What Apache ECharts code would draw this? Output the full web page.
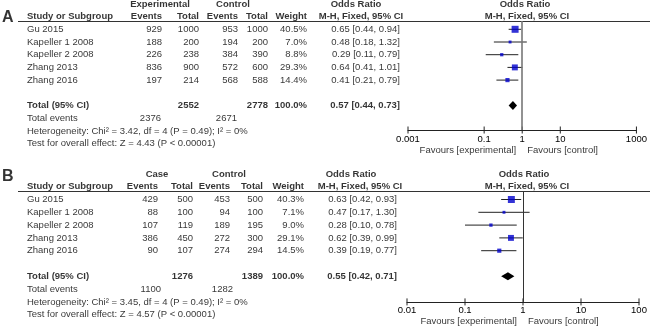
<!DOCTYPE html>
<html>
<head>
<meta charset="utf-8">
<script src="https://cdn.jsdelivr.net/npm/echarts@6/dist/echarts.min.js"></script>
<style>
  html, body { margin: 0; padding: 0; background: #fff; }
  #chart { width: 650px; height: 328px; }
</style>
</head>
<body>
<div id="chart"></div>
<script>
// ---- data ----
const studies = ['Gu 2015', 'Kapeller 1 2008', 'Kapeller 2 2008', 'Zhang 2013', 'Zhang 2016'];

// panel A
const aExpEvents = [929, 188, 226, 836, 197];
const aExpTotal = [1000, 200, 238, 900, 214];
const aCtrlEvents = [953, 194, 384, 572, 568];
const aCtrlTotal = [1000, 200, 390, 600, 588];
const aWeight = [40.5, 7.0, 8.8, 29.3, 14.4];
const aOR = [0.65, 0.48, 0.29, 0.64, 0.41];
const aLow = [0.44, 0.18, 0.11, 0.41, 0.21];
const aHigh = [0.94, 1.32, 0.79, 1.01, 0.79];
const aTotals = [2552, 2778];          // total participants exp / ctrl
const aTotalEvents = [2376, 2671];
const aPooled = [0.57, 0.44, 0.73];   // OR, low, high
const aHet = 'Heterogeneity: Chi² = 3.42, df = 4 (P = 0.49); I² = 0%';
const aTest = 'Test for overall effect: Z = 4.43 (P < 0.00001)';
const aTicks = [0.001, 0.1, 1, 10, 1000];
const aTickLabels = ['0.001', '0.1', '1', '10', '1000'];

// panel B
const bExpEvents = [429, 88, 107, 386, 90];
const bExpTotal = [500, 100, 119, 450, 107];
const bCtrlEvents = [453, 94, 189, 272, 274];
const bCtrlTotal = [500, 100, 195, 300, 294];
const bWeight = [40.3, 7.1, 9.0, 29.1, 14.5];
const bOR = [0.63, 0.47, 0.28, 0.62, 0.39];
const bLow = [0.42, 0.17, 0.10, 0.39, 0.19];
const bHigh = [0.93, 1.30, 0.78, 0.99, 0.77];
const bTotals = [1276, 1389];
const bTotalEvents = [1100, 1282];
const bPooled = [0.55, 0.42, 0.71];
const bHet = 'Heterogeneity: Chi² = 3.45, df = 4 (P = 0.49); I² = 0%';
const bTest = 'Test for overall effect: Z = 4.57 (P < 0.00001)';
const bTicks = [0.01, 0.1, 1, 10, 100];
const bTickLabels = ['0.01', '0.1', '1', '10', '100'];

const FONT = 'Liberation Sans, Arial, Helvetica, sans-serif';
const FS = 9.5;

const chart = echarts.init(document.getElementById('chart'));

const option = {
  animation: false,
  textStyle: { fontFamily: FONT },
  grid: [],
  xAxis: [],
  yAxis: [],
  series: []
};

function ciText(o, l, h) {
  return o.toFixed(2) + ' [' + l.toFixed(2) + ', ' + h.toFixed(2) + ']';
}

function addPanel(p) {
  const gT = option.grid.length;
  const gF = gT + 1;
  // table grid: row r sits at base + r*step
  option.grid.push({ left: 0, width: 650, top: p.base - 2 * p.step, height: 12 * p.step });
  // forest grid: from header rule down to the axis
  option.grid.push({
    left: p.axisLeft, width: p.axisWidth,
    top: p.base + p.yMin * p.step, height: (p.yMax - p.yMin) * p.step
  });

  const xT = option.xAxis.length;
  const tickVals = p.ticks.map(Math.log10);
  const tickFmt = v => {
    const i = tickVals.findIndex(t => Math.abs(t - v) < 1e-6);
    return i >= 0 ? p.tickLabels[i] : '';
  };
  option.xAxis.push({ gridIndex: gT, type: 'value', min: 0, max: 650, show: false });
  option.xAxis.push({
    gridIndex: gF, type: 'value', position: 'bottom',
    min: tickVals[0], max: tickVals[tickVals.length - 1],
    axisLine: { show: true, onZero: false, lineStyle: { color: '#222', width: 1 } },
    axisTick: { show: false },
    axisLabel: { show: true, customValues: tickVals, formatter: tickFmt, margin: p.labelMargin, fontSize: FS, color: '#000', fontFamily: FONT },
    splitLine: { show: false }
  });

  const yT = option.yAxis.length;
  option.yAxis.push({ gridIndex: gT, type: 'value', inverse: true, min: -2, max: 10, show: false });
  option.yAxis.push({ gridIndex: gF, type: 'value', inverse: true, min: p.yMin, max: p.yMax, show: false });

  const c = p.cols;
  const items = [];
  const txt = (x, row, text, align, bold, size) => items.push({
    name: text, value: [x, row],
    label: { align: align, fontWeight: bold ? 'bold' : 'normal', fontSize: size || FS }
  });

  txt(2, p.letterRow, p.letter, 'left', true, 16);
  // header rows
  txt(c.grp1, -2, p.group1, 'center', true);
  txt(c.grp2, -2, 'Control', 'center', true);
  txt(c.or1, -2, 'Odds Ratio', 'center', true);
  txt(c.or2, -2, 'Odds Ratio', 'center', true);
  txt(c.name, -1, 'Study or Subgroup', 'left', true);
  txt(c.c1, -1, 'Events', 'right', true);
  txt(c.c2, -1, 'Total', 'right', true);
  txt(c.c3, -1, 'Events', 'right', true);
  txt(c.c4, -1, 'Total', 'right', true);
  txt(c.c5, -1, 'Weight', 'right', true);
  txt(c.mh1, -1, 'M-H, Fixed, 95% CI', 'center', true);
  txt(c.mh2, -1, 'M-H, Fixed, 95% CI', 'center', true);

  studies.forEach((s, i) => {
    txt(c.name, i, s, 'left');
    txt(c.c1, i, String(p.expEvents[i]), 'right');
    txt(c.c2, i, String(p.expTotal[i]), 'right');
    txt(c.c3, i, String(p.ctrlEvents[i]), 'right');
    txt(c.c4, i, String(p.ctrlTotal[i]), 'right');
    txt(c.c5, i, p.weight[i].toFixed(1) + '%', 'right');
    txt(c.orText, i, ciText(p.or[i], p.low[i], p.high[i]), 'right');
  });

  txt(c.name, 6, 'Total (95% CI)', 'left', true);
  txt(c.c2, 6, String(p.totals[0]), 'right', true);
  txt(c.c4, 6, String(p.totals[1]), 'right', true);
  txt(c.c5, 6, '100.0%', 'right', true);
  txt(c.orText, 6, ciText(p.pooled[0], p.pooled[1], p.pooled[2]), 'right', true);
  txt(c.name, 7, 'Total events', 'left');
  txt(c.ev1, 7, String(p.totalEvents[0]), 'right');
  txt(c.ev2, 7, String(p.totalEvents[1]), 'right');
  txt(c.name, 8, p.het, 'left');
  txt(c.name, 9, p.test, 'left');

  option.series.push({
    type: 'scatter', xAxisIndex: xT, yAxisIndex: yT,
    silent: true, clip: false, symbolSize: 1,
    itemStyle: { color: 'rgba(0,0,0,0)' },
    label: { show: true, position: 'inside', color: '#000', fontSize: FS, fontFamily: FONT, verticalAlign: 'middle', formatter: q => q.name },
    emphasis: { disabled: true },
    data: items,
    markLine: {
      silent: true, symbol: 'none', label: { show: false },
      lineStyle: { color: '#333', width: 1, type: 'solid' },
      data: [[{ coord: [18, p.yMin] }, { coord: [650, p.yMin] }]]
    }
  });

  // axis ticks, crossing the axis line
  option.series.push({
    type: 'custom', xAxisIndex: xT + 1, yAxisIndex: yT + 1, silent: true,
    data: tickVals.map(v => [v, p.yMax]),
    renderItem: (params, api) => {
      const pt = api.coord([api.value(0), api.value(1)]);
      return { type: 'line', shape: { x1: pt[0], y1: pt[1] - 3.5, x2: pt[0], y2: pt[1] + 3.5 }, style: { stroke: '#222', lineWidth: 1 } };
    }
  });

  // confidence intervals
  option.series.push({
    type: 'custom', xAxisIndex: xT + 1, yAxisIndex: yT + 1, silent: true,
    data: studies.map((s, i) => [Math.log10(p.low[i]), Math.log10(p.high[i]), i]),
    renderItem: (params, api) => {
      const a = api.coord([api.value(0), api.value(2)]);
      const b = api.coord([api.value(1), api.value(2)]);
      return { type: 'line', shape: { x1: a[0], y1: a[1], x2: b[0], y2: b[1] }, style: { stroke: '#222', lineWidth: 1 } };
    }
  });

  // study squares + line of no effect
  option.series.push({
    type: 'scatter', xAxisIndex: xT + 1, yAxisIndex: yT + 1, silent: true,
    symbol: 'rect', z: 3,
    itemStyle: { color: '#0000cc' },
    data: studies.map((s, i) => ({ value: [Math.log10(p.or[i]), i], symbolSize: 11 * Math.sqrt(p.weight[i] / 100) })),
    markLine: {
      silent: true, symbol: 'none', label: { show: false },
      lineStyle: { color: p.nullColor, width: p.nullWidth, type: 'solid' },
      data: [{ xAxis: 0 }]
    }
  });

  // pooled diamond
  option.series.push({
    type: 'custom', xAxisIndex: xT + 1, yAxisIndex: yT + 1, silent: true,
    data: [[Math.log10(p.pooled[1]), Math.log10(p.pooled[0]), Math.log10(p.pooled[2]), 6]],
    renderItem: (params, api) => {
      const row = api.value(3);
      const l = api.coord([api.value(0), row]);
      const m = api.coord([api.value(1), row]);
      const r = api.coord([api.value(2), row]);
      const h = p.diamondHalf;
      return { type: 'polygon', shape: { points: [l, [m[0], m[1] - h], r, [m[0], m[1] + h]] }, style: { fill: '#000' } };
    }
  });

  // favours labels
  option.series.push({
    type: 'scatter', xAxisIndex: xT + 1, yAxisIndex: yT + 1, silent: true, clip: false,
    symbolSize: 1, itemStyle: { color: 'rgba(0,0,0,0)' },
    label: { show: true, position: 'inside', color: '#000', fontSize: FS, fontFamily: FONT, verticalAlign: 'middle', formatter: q => q.name },
    data: [
      { name: 'Favours [experimental]', value: [0, p.favRow], label: { align: 'right', offset: [-6, 0] } },
      { name: 'Favours [control]', value: [0, p.favRow], label: { align: 'left', offset: [5, 0] } }
    ]
  });
}

addPanel({
  letter: 'A', letterRow: -0.9, group1: 'Experimental',
  base: 29.3, step: 12.7, yMin: -0.65, yMax: 7.93, favRow: 9.5, labelMargin: 4.5,
  axisLeft: 408, axisWidth: 234, nullColor: '#777', nullWidth: 1.6, diamondHalf: 4.5,
  cols: { name: 27, c1: 162, c2: 199, c3: 238, c4: 268, c5: 307, ev1: 161, ev2: 237, orText: 400,
          grp1: 160, grp2: 233, or1: 356, mh1: 361, or2: 525, mh2: 527 },
  expEvents: aExpEvents, expTotal: aExpTotal, ctrlEvents: aCtrlEvents, ctrlTotal: aCtrlTotal,
  weight: aWeight, or: aOR, low: aLow, high: aHigh,
  totals: aTotals, totalEvents: aTotalEvents, pooled: aPooled, het: aHet, test: aTest,
  ticks: aTicks, tickLabels: aTickLabels
});

addPanel({
  letter: 'B', letterRow: -1.8, group1: 'Case',
  base: 199.5, step: 12.8, yMin: -0.66, yMax: 8.0, favRow: 9.5, labelMargin: 3.5,
  axisLeft: 407, axisWidth: 232, nullColor: '#333', nullWidth: 1, diamondHalf: 4,
  cols: { name: 27, c1: 158, c2: 193, c3: 230, c4: 263, c5: 304, ev1: 161, ev2: 233, orText: 397,
          grp1: 157, grp2: 229, or1: 351, mh1: 360, or2: 524, mh2: 527 },
  expEvents: bExpEvents, expTotal: bExpTotal, ctrlEvents: bCtrlEvents, ctrlTotal: bCtrlTotal,
  weight: bWeight, or: bOR, low: bLow, high: bHigh,
  totals: bTotals, totalEvents: bTotalEvents, pooled: bPooled, het: bHet, test: bTest,
  ticks: bTicks, tickLabels: bTickLabels
});

chart.setOption(option);
</script>
</body>
</html>
